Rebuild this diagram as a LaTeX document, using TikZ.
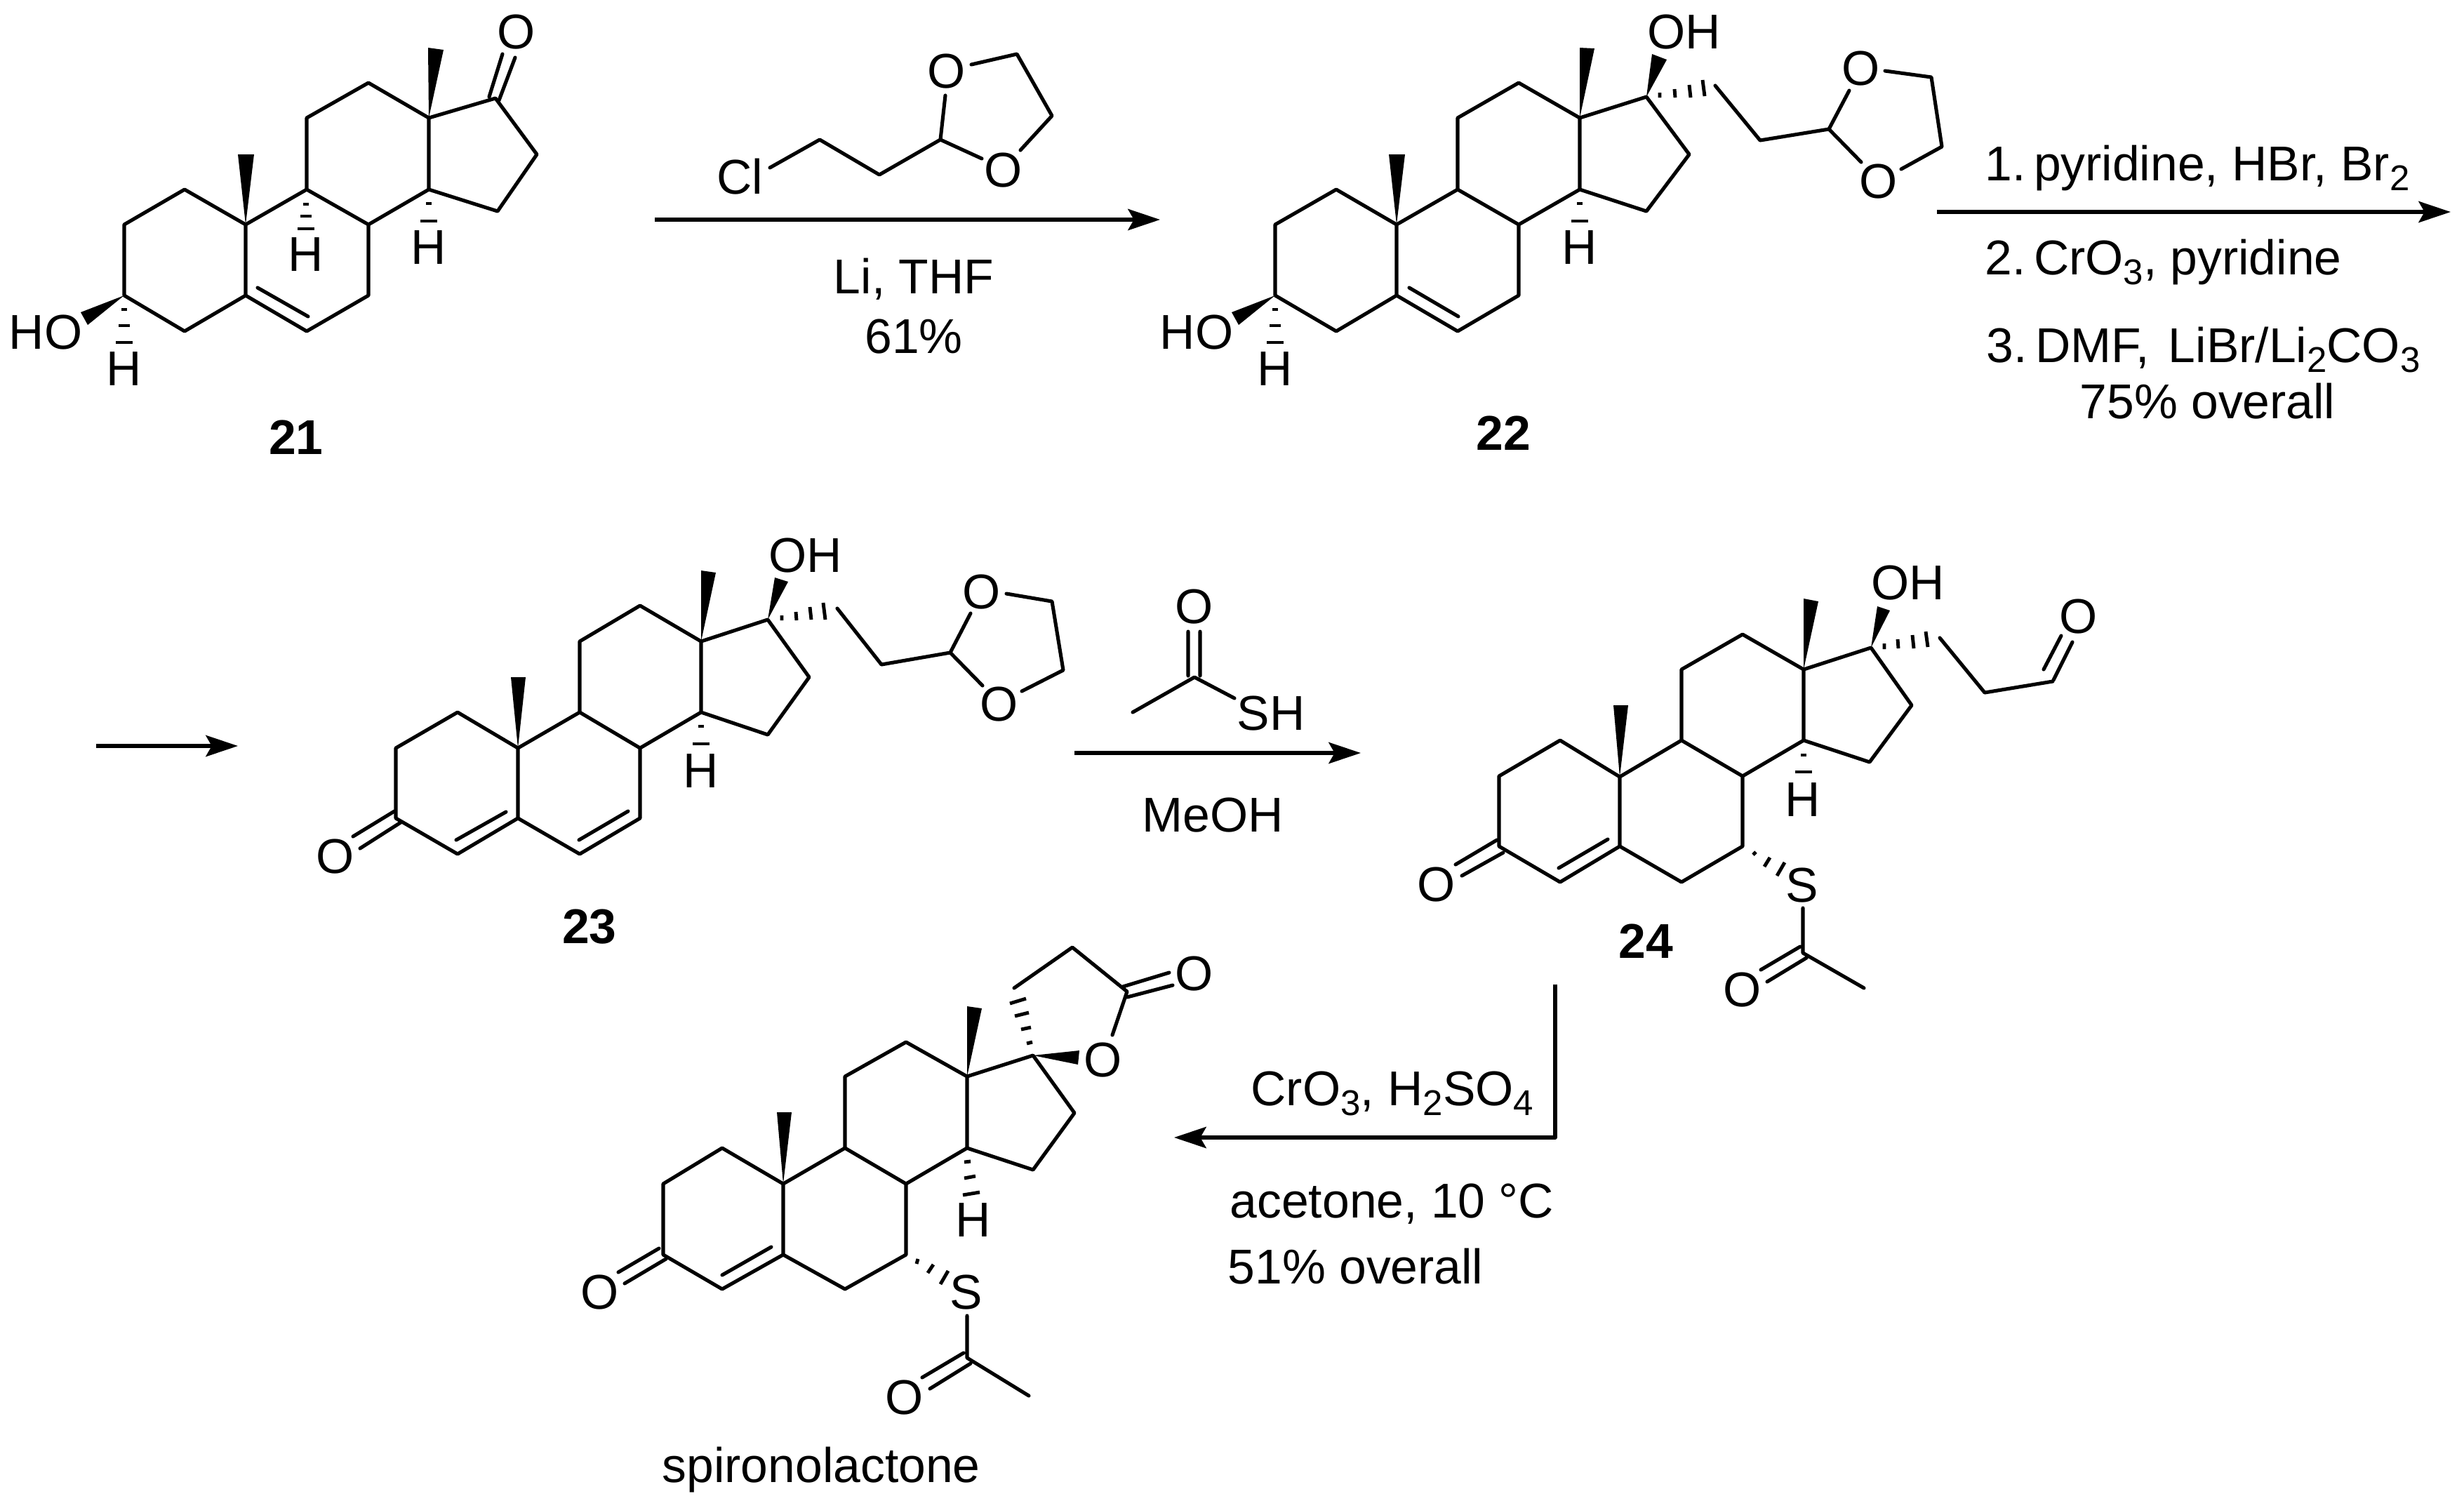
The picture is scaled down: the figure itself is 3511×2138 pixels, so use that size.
\documentclass[tikz,border=0pt]{standalone}
\usepackage{fontspec}
\setmainfont{Liberation Sans}
\usetikzlibrary{arrows.meta}
\newcommand{\atoms}[1]{\foreach \n/\px/\py in {#1} {\coordinate (\n) at (\px,\py);}}
\newcommand{\sterane}[1]{\draw[bond] (#13) -- (#12) -- (#11) -- (#110) -- (#15) -- (#14) -- cycle
  (#15) -- (#16) -- (#17) -- (#18) -- (#19) -- (#110)
  (#19) -- (#111) -- (#112) -- (#113) -- (#114) -- (#18)
  (#114) -- (#115) -- (#116) -- (#117) -- (#113);}
\newcommand{\wedgebond}[3]{\fill (#1) -- (#2) -- (#3) -- cycle;}
\newcommand{\hashstack}[2]{\foreach \yy/\ww in {#2} {\draw[hash] (#1-\ww,\yy) -- (#1+\ww,\yy);}}
\newcommand{\chemsub}[1]{\raisebox{-0.14cm}{\fontsize{14.5pt}{14.5pt}\selectfont #1}}
\tikzset{
  bond/.style={line width=1.45pt,line join=round,line cap=round},
  hash/.style={line width=1.4pt},
  rxn/.style={line width=1.5pt,line join=round,-{Stealth[length=13pt,width=8.6pt,inset=2.4pt]}},
  atom/.style={inner sep=0pt,font=\fontsize{19.8pt}{19.8pt}\selectfont},
  cmpd/.style={inner sep=0pt,font=\fontsize{19.8pt}{19.8pt}\selectfont\bfseries},
  reagent/.style={inner sep=0pt,anchor=base west,font=\fontsize{19.8pt}{19.8pt}\selectfont},
  reagentc/.style={reagent,anchor=base}
}
\begin{document}
\begin{tikzpicture}[x=0.01cm,y=-0.01cm]
\useasboundingbox (0,0) rectangle (3511,2138);

\atoms{a1/263/270,a2/177/320,a3/177/421,a4/263/472,a5/350/421,a6/437/472,a7/525/421,a8/525/320,a9/437/270,a10/350/320,a11/437/168,a12/525/118,a13/611/168,a14/611/270,a15/709/301,a16/765/220,a17/706/140,
  am1/339/220,am2/362/220,an1/610/68,an2/632/71,ah1/115/445,ah2/125/463,
  ad1/697/138,ad2/716/77,ad3/711/143,ad4/734/82,ae1/367/410,ae2/439/451}
\sterane{a}
\draw[bond] (ad1) -- (ad2) (ad3) -- (ad4) (ae1) -- (ae2);
\wedgebond{a10}{am1}{am2}
\wedgebond{a13}{an1}{an2}
\wedgebond{a3}{ah1}{ah2}
\hashstack{177}{441/4,464/8,488/12}
\hashstack{436}{291/4,308/8,326/12}
\hashstack{611}{290/4,315/12}
\node[atom] (aO) at (736,46) {O};
\node[atom] (aHO) at (65,474) {HO};
\node[atom] (aH3) at (177,526) {H};
\node[atom] (aH9) at (436,363) {H};
\node[atom] (aH14) at (611,353) {H};
\node[cmpd] (lab21) at (422,623) {21};

\atoms{r1/1097/239,r2/1168/199,r3/1253/249,r4/1340/199,r5/1347/136,r6/1399/226,r7/1384/92,r8/1449/77,r9/1499/165,r10/1454/214,
  arr1s/933/313,arr1e/1653/313}
\draw[bond] (r1) -- (r2) -- (r3) -- (r4) -- (r5) (r4) -- (r6) (r7) -- (r8) -- (r9) -- (r10);
\node[atom] (rCl) at (1054,252) {Cl};
\node[atom] (rO1) at (1349,102) {O};
\node[atom] (rO2) at (1430,243) {O};
\draw[rxn] (arr1s) -- (arr1e);
\node[reagentc] (rLi) at (1302,418) {Li, THF};
\node[reagentc] (rYield) at (1302,503) {61\%};

\atoms{b1/1904/270,b2/1817/320,b3/1817/421,b4/1904/472,b5/1990/421,b6/2077/472,b7/2164/421,b8/2164/320,b9/2077/270,b10/1990/320,b11/2077/168,b12/2164/118,b13/2251/168,b14/2251/270,b15/2346/301,b16/2407/220,b17/2346/138,
  bm1/1979/220,bm2/2002/220,bn1/2251/68,bn2/2272/69,bh1/1755/445,bh2/1765/463,bw1/2354/77,bw2/2375/85,
  be1/2008/410,be2/2078/451,
  bc1/2444/122,bc2/2508/200,bc3/2606/184,bc4/2635/129,bc5/2652/231,bc6/2686/101,bc7/2752/110,bc8/2767/209,bc9/2709/241,
  arr2s/2760/302,arr2e/3492/302}
\sterane{b}
\draw[bond] (be1) -- (be2) (bc1) -- (bc2) -- (bc3) -- (bc4) (bc3) -- (bc5) (bc6) -- (bc7) -- (bc8) -- (bc9);
\wedgebond{b10}{bm1}{bm2}
\wedgebond{b13}{bn1}{bn2}
\wedgebond{b3}{bh1}{bh2}
\wedgebond{b17}{bw1}{bw2}
\hashstack{1817}{441/4,464/8,488/12}
\hashstack{2251}{290/4,315/12}
\draw[hash] (2365,132) -- (2365,139) (2386,127) -- (2387,139) (2407,121) -- (2409,139) (2426,114) -- (2429,137);
\node[atom] (bOH) at (2400,46) {OH};
\node[atom] (bHO) at (1705,474) {HO};
\node[atom] (bH3) at (1817,526) {H};
\node[atom] (bH14) at (2251,353) {H};
\node[atom] (bO1) at (2652,98) {O};
\node[atom] (bO2) at (2677,259) {O};
\node[cmpd] (lab22) at (2142,617) {22};

\draw[rxn] (arr2s) -- (arr2e);
\node[reagent] (s1) at (2828,257) {1.\kern-0.08cm\ pyridine, HBr, Br\chemsub{2}};
\node[reagent] (s2) at (2828,391) {2.\kern-0.08cm\ CrO\chemsub{3}, pyridine};
\node[reagent] (s3) at (2830,516) {3.\kern-0.08cm\ DMF,\kern0.08cm\ LiBr/Li\chemsub{2}CO\chemsub{3}};
\node[reagent] (s4) at (2963,596) {75\% overall};

\atoms{c1/652/1015,c2/564/1066,c3/564/1166,c4/652/1217,c5/738/1166,c6/826/1217,c7/912/1166,c8/912/1066,c9/826/1015,c10/738/1066,c11/826/914,c12/912/863,c13/999/914,c14/999/1015,c15/1094/1047,c16/1153/965,c17/1094/883,
  cm1/728/965,cm2/749/965,cn1/999/813,cn2/1020/816,cw1/1104/823,cw2/1123/829,
  cd1/562/1156,cd2/503/1192,cd3/571/1172,cd4/513/1209,ce1/650/1197,ce2/721/1157,ce3/825/1197,ce4/895/1156,
  cc1/1193/867,cc2/1256/947,cc3/1354/930,cc4/1383/874,cc5/1400/977,cc6/1434/846,cc7/1499/857,cc8/1515/955,cc9/1456/985,
  arr3s/137/1063,arr3e/339/1063}
\draw[rxn] (arr3s) -- (arr3e);
\sterane{c}
\draw[bond] (cd1) -- (cd2) (cd3) -- (cd4) (ce1) -- (ce2) (ce3) -- (ce4) (cc1) -- (cc2) -- (cc3) -- (cc4) (cc3) -- (cc5) (cc6) -- (cc7) -- (cc8) -- (cc9);
\wedgebond{c10}{cm1}{cm2}
\wedgebond{c13}{cn1}{cn2}
\wedgebond{c17}{cw1}{cw2}
\hashstack{999}{1035/4,1060/12}
\draw[hash] (1114,877) -- (1114,884) (1134,872) -- (1135,884) (1154,865) -- (1156,883) (1173,859) -- (1176,883);
\node[atom] (cOH) at (1148,792) {OH};
\node[atom] (cO) at (478,1221) {O};
\node[atom] (cH14) at (999,1099) {H};
\node[atom] (cO1) at (1399,844) {O};
\node[atom] (cO2) at (1424,1004) {O};
\node[cmpd] (lab23) at (840,1321) {23};

\atoms{t1/1702/965,t2/1614/1015,t3/1759/995,t4/1693/900,t5/1693/963,t6/1710/900,t7/1710/963,
  arr4s/1531/1073,arr4e/1939/1073}
\draw[bond] (t2) -- (t1) -- (t3) (t4) -- (t5) (t6) -- (t7);
\node[atom] (tO) at (1702,865) {O};
\node[atom] (tSH) at (1811,1017) {SH};
\draw[rxn] (arr4s) -- (arr4e);
\node[reagentc] (tMe) at (1728,1185) {MeOH};

\atoms{d1/2223/1055,d2/2136/1106,d3/2136/1206,d4/2223/1257,d5/2308/1206,d6/2396/1257,d7/2483/1206,d8/2483/1106,d9/2396/1055,d10/2308/1107,d11/2396/954,d12/2483/904,d13/2570/954,d14/2570/1055,d15/2664/1086,d16/2724/1005,d17/2666/923,
  dm1/2299/1005,dm2/2320/1005,dn1/2570/853,dn2/2591/857,dw1/2675/864,dw2/2693/870,
  dd1/2133/1197,dd2/2074/1232,dd3/2142/1215,dd4/2083/1248,de1/2221/1237,de2/2291/1196,
  dc1/2764/909,dc2/2828/987,dc3/2925/971,df1/2912/954,df2/2937/906,df3/2926/969,df4/2953/915,
  ds1/2569/1294,ds2/2569/1358,ds3/2565/1349,ds4/2509/1382,ds5/2574/1365,ds6/2518/1399,ds7/2656/1408}
\sterane{d}
\draw[bond] (dd1) -- (dd2) (dd3) -- (dd4) (de1) -- (de2) (dc1) -- (dc2) -- (dc3) (df1) -- (df2) (df3) -- (df4)
  (ds1) -- (ds2) -- (ds7) (ds3) -- (ds4) (ds5) -- (ds6);
\wedgebond{d10}{dm1}{dm2}
\wedgebond{d13}{dn1}{dn2}
\wedgebond{d17}{dw1}{dw2}
\hashstack{2570}{1076/4,1100/12}
\draw[hash] (2685,917) -- (2685,925) (2704,911) -- (2705,924) (2725,905) -- (2727,924) (2744,900) -- (2747,922)
  (2498,1218) -- (2502,1214) (2514,1235) -- (2522,1222) (2532,1248) -- (2543,1229);
\node[atom] (dOH) at (2719,831) {OH};
\node[atom] (dO) at (2047,1261) {O};
\node[atom] (dH14) at (2569,1140) {H};
\node[atom] (dO1) at (2962,879) {O};
\node[atom] (dS) at (2568,1262) {S};
\node[atom] (dO2) at (2483,1411) {O};
\node[cmpd] (lab24) at (2345,1341) {24};

\atoms{arr5s/2216/1403,arr5m/2216/1621,arr5e/1673/1621}
\draw[rxn] (arr5s) -- (arr5m) -- (arr5e);
\node[reagent] (u1) at (1782,1575) {CrO\chemsub{3}, H\chemsub{2}SO\chemsub{4}};
\node[reagent] (u2) at (1752,1735) {acetone, 10 °C};
\node[reagent] (u3) at (1749,1829) {51\% overall};

\atoms{e1/1029/1636,e2/945/1687,e3/945/1788,e4/1029/1837,e5/1116/1788,e6/1204/1837,e7/1291/1788,e8/1291/1687,e9/1204/1636,e10/1116/1687,e11/1204/1534,e12/1291/1485,e13/1378/1534,e14/1378/1636,e15/1472/1667,e16/1531/1586,e17/1472/1504,
  em1/1107/1585,em2/1128/1585,en1/1378/1434,en2/1399/1437,ew1/1538/1497,ew2/1536/1517,
  ed1/939/1779,ed2/881/1813,ed3/949/1794,ed4/890/1829,ee1/1099/1777,ee2/1029/1817,
  el1/1445/1408,el2/1528/1350,el3/1606/1413,el4/1585/1475,ef1/1600/1406,ef2/1666/1386,ef3/1606/1421,ef4/1671/1404,
  es1/1378/1875,es2/1378/1935,es3/1373/1928,es4/1314/1963,es5/1383/1943,es6/1325/1979,es7/1466/1989}
\sterane{e}
\draw[bond] (ed1) -- (ed2) (ed3) -- (ed4) (ee1) -- (ee2) (el1) -- (el2) -- (el3) -- (el4) (ef1) -- (ef2) (ef3) -- (ef4)
  (es1) -- (es2) -- (es7) (es3) -- (es4) (es5) -- (es6);
\wedgebond{e10}{em1}{em2}
\wedgebond{e13}{en1}{en2}
\wedgebond{e17}{ew1}{ew2}
\draw[hash] (1374,1656) -- (1383,1655) (1374,1679) -- (1390,1676) (1372,1703) -- (1396,1699)
  (1463,1487) -- (1471,1485) (1455,1467) -- (1469,1464) (1446,1448) -- (1466,1443) (1439,1430) -- (1462,1423)
  (1306,1801) -- (1308,1794) (1322,1814) -- (1330,1802) (1340,1830) -- (1351,1811);
\node[atom] (eO) at (855,1841) {O};
\node[atom] (eH14) at (1387,1739) {H};
\node[atom] (eO1) at (1572,1510) {O};
\node[atom] (eO2) at (1702,1388) {O};
\node[atom] (eS) at (1377,1841) {S};
\node[atom] (eO3) at (1289,1991) {O};
\node[reagent] (eName) at (943,2112) {spironolactone};
\end{tikzpicture}
\end{document}
